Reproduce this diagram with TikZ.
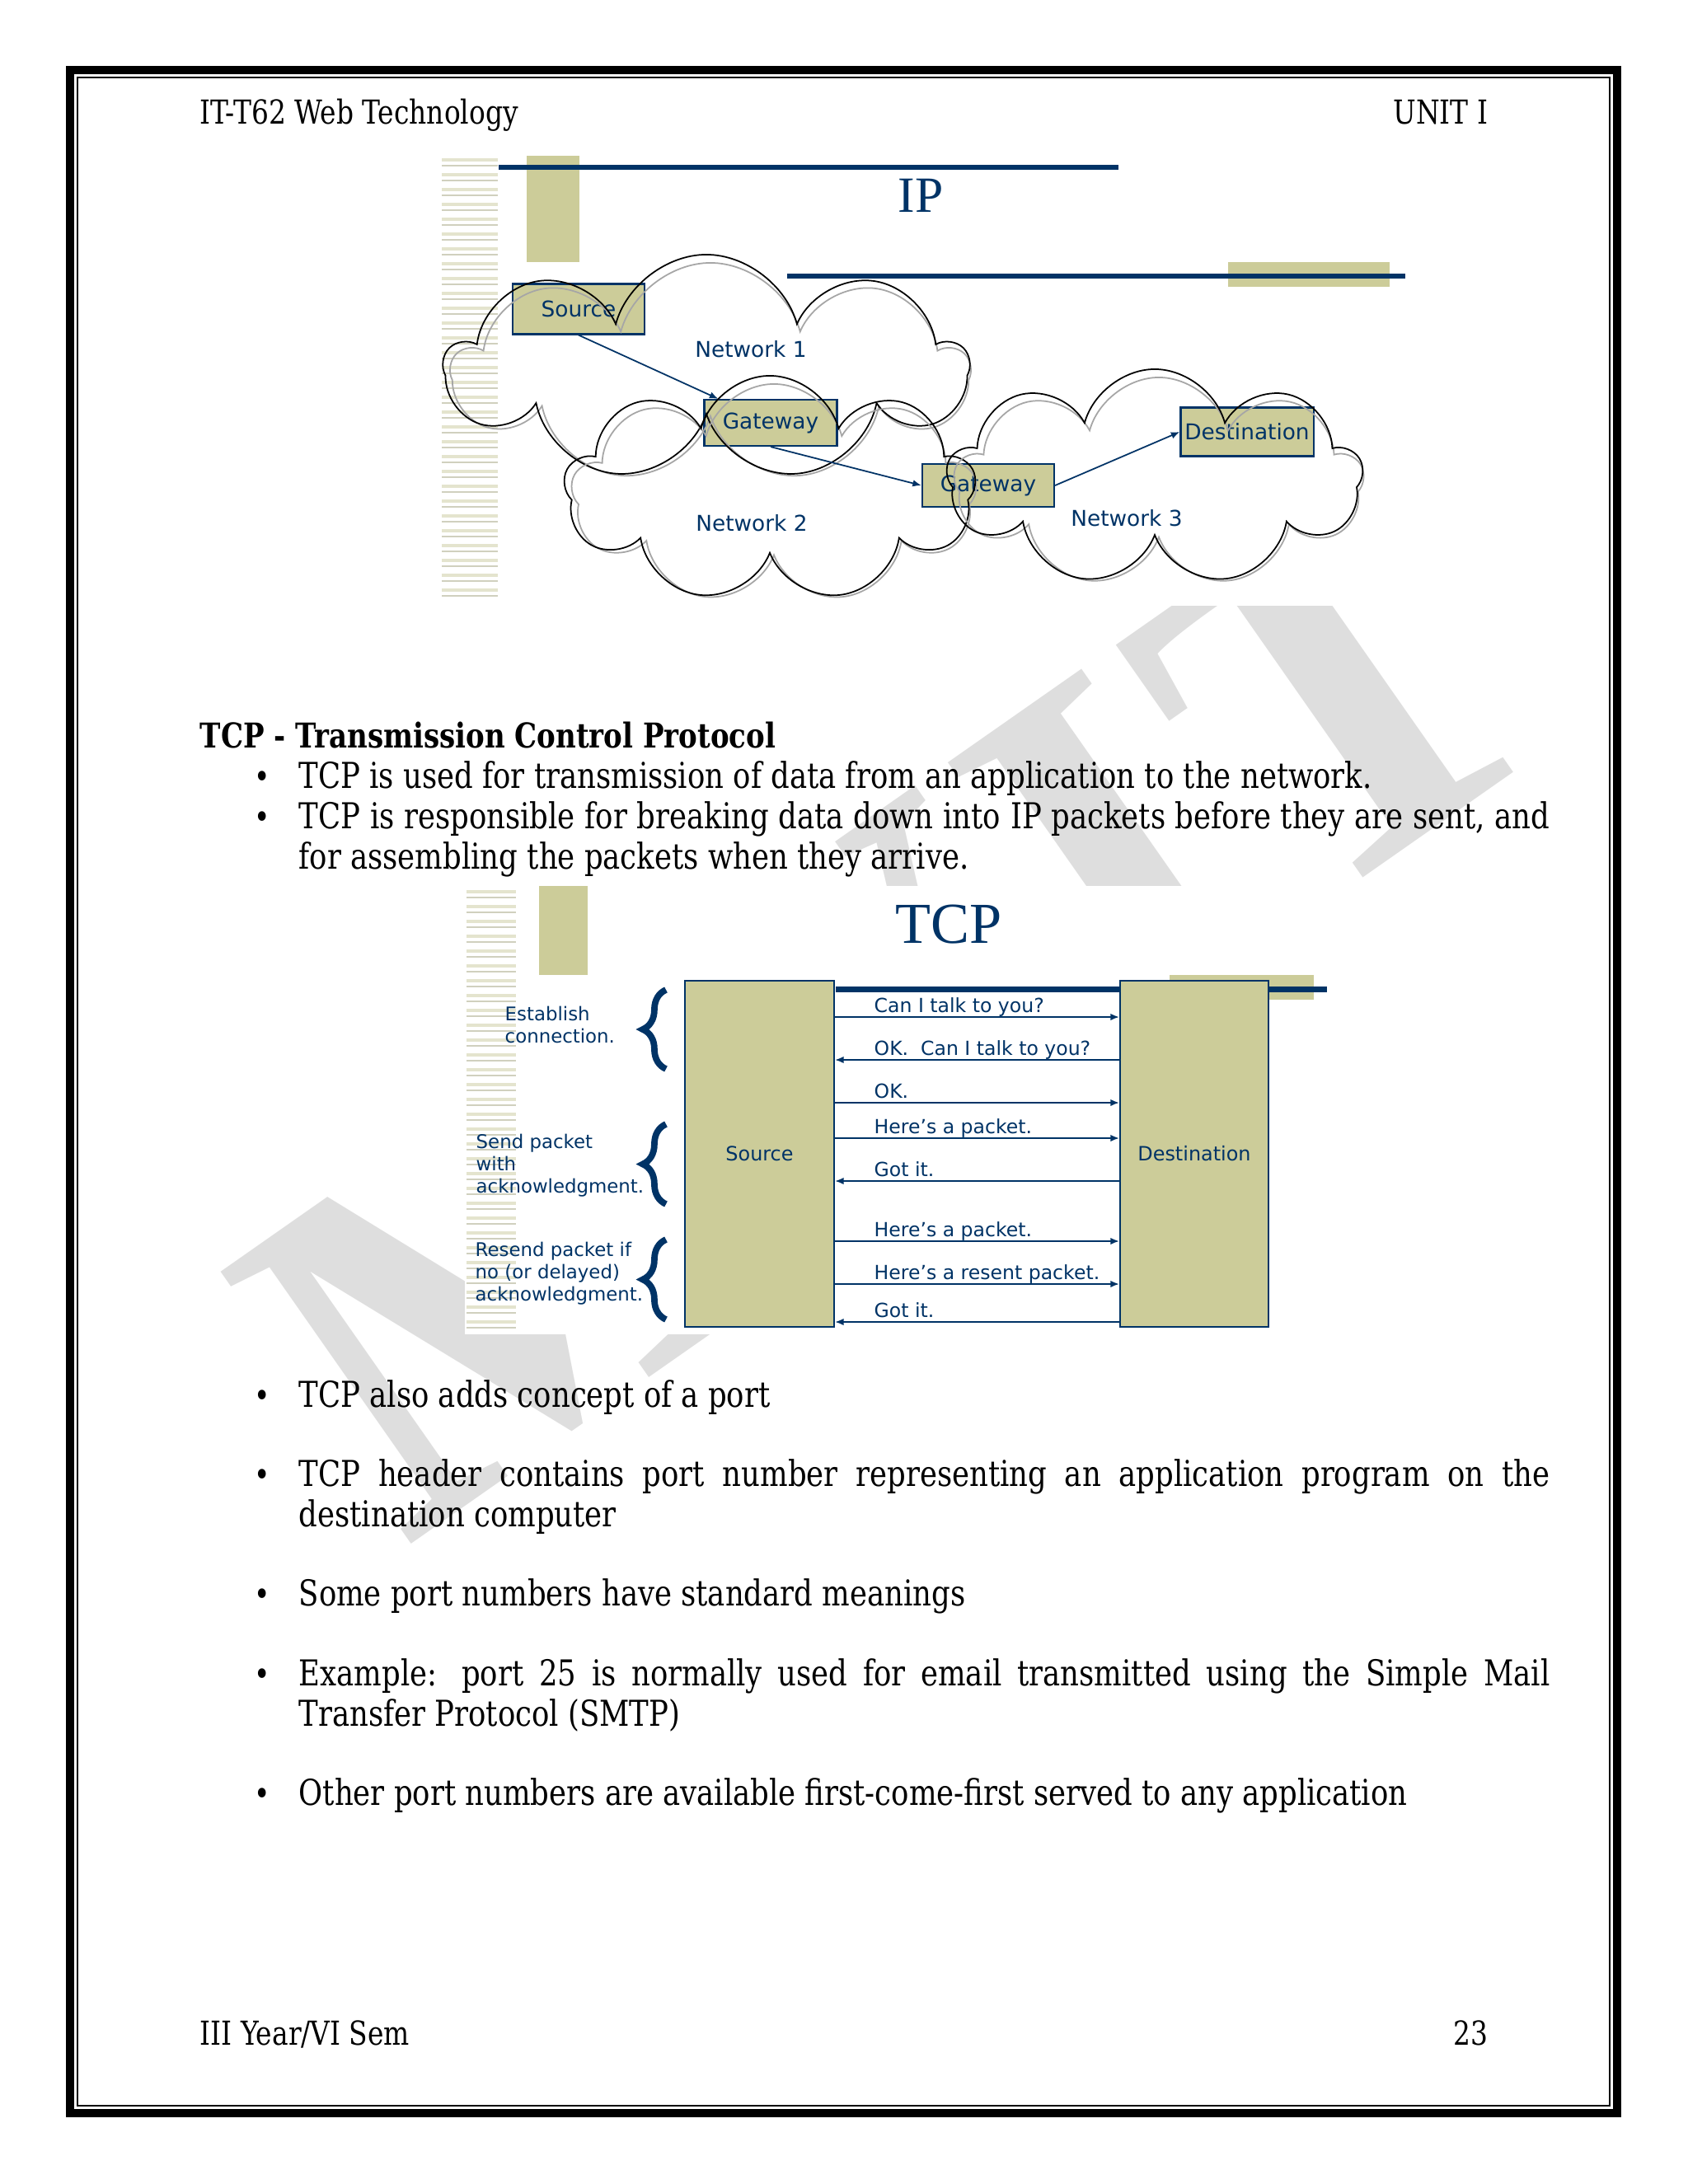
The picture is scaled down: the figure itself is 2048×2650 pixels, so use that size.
\documentclass[tikz,border=0pt]{standalone}
\usepackage{fontspec}
\setmainfont{DejaVu Serif}[FakeStretch=0.82]
\newfontfamily\slidesans{DejaVu Sans}
\newfontfamily\slideserif{Liberation Serif}
\usetikzlibrary{arrows.meta,calc,positioning,shapes.symbols,decorations.pathreplacing}

\definecolor{slidenavy}{RGB}{0,51,102}
\definecolor{slideolive}{RGB}{204,204,153}
\definecolor{stripeolive}{RGB}{228,228,206}
\definecolor{markgray}{RGB}{222,222,222}

\tikzset{
  pagetext/.style={anchor=base west,inner sep=0pt,font=\fontsize{11.4}{13.9}\selectfont},
  bodytext/.style={pagetext,font=\fontsize{12.3}{14}\selectfont},
  heading/.style={pagetext,font=\bfseries\fontsize{11.8}{14}\selectfont},
  ipbox/.style={draw=slidenavy,fill=slideolive,line width=0.6pt,text=slidenavy,
    font=\slidesans\fontsize{7.5}{9}\selectfont,inner sep=0pt},
  netlabel/.style={text=slidenavy,font=\slidesans\fontsize{7.5}{9}\selectfont,inner sep=0pt},
  net/.style={cloud,cloud puffs=9,cloud ignores aspect,draw=black,line width=0.5pt,inner sep=0pt},
  netshade/.style={net,draw=black!35},
  hop/.style={->,draw=slidenavy,line width=0.5pt},
  tcpbox/.style={draw=slidenavy,fill=slideolive,line width=0.6pt,text=slidenavy,
    font=\slidesans\fontsize{6.8}{8}\selectfont,inner sep=0pt},
  msg/.style={draw=slidenavy,line width=0.5pt},
  msglabel/.style={anchor=base west,inner sep=0pt,text=slidenavy,font=\slidesans\fontsize{6.7}{8}\selectfont},
  note/.style={anchor=north west,inner sep=0pt,align=left,text=slidenavy,
    font=\slidesans\fontsize{6.5}{7.7}\selectfont},
  grouping/.style={decorate,decoration={brace,amplitude=8pt},draw=slidenavy,line width=2.2pt},
  stripe/.style={draw=stripeolive,line width=1.1pt},
  thinstripe/.style={draw=stripeolive!80!gray,line width=0.3pt},
}

\begin{document}
\begin{tikzpicture}[x=0.01cm,y=-0.01cm,>={Latex[length=3pt,width=2.4pt]}]
  \useasboundingbox (0,0) rectangle (2048,2650);

  % watermark
  \node[rotate=35,anchor=base west,inner sep=0pt,text=markgray,
    font=\slideserif\bfseries\fontsize{175}{175}\selectfont] (mark) at (490,1880)
    {M\kern6pt V\kern6pt I\kern6pt T};

  % page frame
  \draw[line width=2.85pt] (85,85) rectangle (1962,2564);
  \draw[line width=0.7pt] (94,94) rectangle (1953,2555);

  \node[pagetext] (course) at (242,150) {IT-T62 Web Technology};
  \node[pagetext,anchor=base east] (unit) at (1806,150) {UNIT I};

  % IP slide
  \begin{scope}
    \fill[white] (534,177) rectangle (1790,735);
    \foreach \k in {0,...,29} {
      \draw[stripe] (536,194+18*\k) -- (604,194+18*\k);
      \draw[thinstripe] (536,201+18*\k) -- (604,201+18*\k);
    }
    \fill[slideolive] (639,189) rectangle (703,318);
    \draw[slidenavy,line width=1.7pt] (605,203) -- (1357,203);
    \node[text=slidenavy,font=\slideserif\fontsize{17.5}{17.5}\selectfont] (iptitle) at (1117,237) {IP};
    \fill[slideolive] (1490,318) rectangle (1686,348);
    \draw[slidenavy,line width=1.7pt] (955,335) -- (1705,335);

    \node[ipbox,minimum width=1.60cm,minimum height=0.61cm] (src) at (702,375) {Source};
    \node[ipbox,minimum width=1.61cm,minimum height=0.56cm] (gw1) at (935,513) {Gateway};
    \node[ipbox,minimum width=1.60cm,minimum height=0.52cm] (gw2) at (1199,589) {Gateway};
    \node[ipbox,minimum width=1.61cm,minimum height=0.59cm] (dest) at (1513,524) {Destination};

    \node[netshade,minimum width=6.25cm,minimum height=2.66cm] (net1b) at (862,452) {};
    \node[net,minimum width=6.33cm,minimum height=2.74cm] (net1) at (857,446) {};
    \node[netshade,minimum width=4.91cm,minimum height=2.66cm] (net2b) at (939,599) {};
    \node[net,minimum width=4.99cm,minimum height=2.74cm] (net2) at (934,593) {};
    \node[netshade,minimum width=4.96cm,minimum height=2.54cm] (net3b) at (1406,585) {};
    \node[net,minimum width=5.04cm,minimum height=2.62cm] (net3) at (1401,579) {};

    \node[netlabel] (lab1) at (911,424) {Network 1};
    \node[netlabel] (lab2) at (912,635) {Network 2};
    \node[netlabel] (lab3) at (1367,629) {Network 3};

    \draw[hop] (src.south) -- ($(gw1.north west)+(18,0)$);
    \draw[hop] (gw1.south) -- (gw2.west);
    \draw[hop] (gw2.east) -- (dest.west);
  \end{scope}

  % TCP text
  \node[heading] (tcphead) at (242,907) {TCP - Transmission Control Protocol};
  \foreach \y in {956,1005,1707,1803,1948,2045,2190}
    \node[pagetext] (dot\y) at (308,\y) {\textbullet};
  \node[bodytext] (p1) at (362,956) {TCP is used for transmission of data from an application to the network.};
  \node[bodytext] (p2) at (362,1005) {\makebox[431.6pt][s]{TCP is responsible for breaking data down into IP packets before they are sent, and}};
  \node[bodytext] (p2b) at (362,1054) {for assembling the packets when they arrive.};

  % TCP slide
  \begin{scope}
    \fill[white] (564,1075) rectangle (1614,1619);
    \foreach \k in {0,...,29} {
      \draw[stripe] (566,1082+18*\k) -- (626,1082+18*\k);
      \draw[thinstripe] (566,1089+18*\k) -- (626,1089+18*\k);
    }
    \fill[slideolive] (654,1075) rectangle (713,1183);
    \node[text=slidenavy,font=\slideserif\fontsize{20}{20}\selectfont] (tcptitle) at (1151,1122) {TCP};
    \fill[slideolive] (1419,1183) rectangle (1594,1213);
    \draw[slidenavy,line width=2pt] (1014,1200) -- (1610,1200);

    \node[tcpbox,minimum width=1.81cm,minimum height=4.20cm] (srcb) at (921.5,1400) {Source};
    \node[tcpbox,minimum width=1.80cm,minimum height=4.20cm] (dstb) at (1449,1400) {Destination};

    \foreach \y/\txt in {1234/Can I talk to you?,1338/OK.,1381/Here’s a packet.,
        1506/Here’s a packet.,1558/Here’s a resent packet.} {
      \coordinate (lvl\y) at (0,\y);
      \draw[msg,->] (srcb.east |- lvl\y) -- (dstb.west |- lvl\y);
      \node[msglabel] (msg\y) at (1060,\y-6) {\txt};
    }
    \foreach \y/\txt in {1286/OK.\ \ Can I talk to you?,1433/Got it.,1604/Got it.} {
      \coordinate (lvl\y) at (0,\y);
      \draw[msg,->] (dstb.west |- lvl\y) -- (srcb.east |- lvl\y);
      \node[msglabel] (msg\y) at (1060,\y-6) {\txt};
    }

    \node[note] (est) at (612,1220) {Establish\\connection.};
    \node[note] (ack) at (577,1375) {Send packet\\with\\acknowledgment.};
    \node[note] (resend) at (576,1506) {Resend packet if\\no (or delayed)\\acknowledgment.};

    \draw[grouping] (808,1297) -- (808,1201);
    \draw[grouping] (808,1461) -- (808,1364);
    \draw[grouping] (808,1601) -- (808,1504);
  \end{scope}

  % remaining bullets
  \node[bodytext] (p3) at (362,1707) {TCP also adds concept of a port};
  \node[bodytext] (p4) at (362,1803) {\makebox[431.6pt][s]{TCP header contains port number representing an application program on the}};
  \node[bodytext] (p4b) at (362,1852) {destination computer};
  \node[bodytext] (p5) at (362,1948) {Some port numbers have standard meanings};
  \node[bodytext] (p6) at (362,2045) {\makebox[431.6pt][s]{Example: port 25 is normally used for email transmitted using the Simple Mail}};
  \node[bodytext] (p6b) at (362,2094) {Transfer Protocol (SMTP)};
  \node[bodytext] (p7) at (362,2190) {Other port numbers are available first-come-first served to any application};

  \node[pagetext] (sem) at (242,2481) {III Year/VI Sem};
  \node[pagetext,anchor=base east] (pageno) at (1806,2481) {23};
\end{tikzpicture}
\end{document}
